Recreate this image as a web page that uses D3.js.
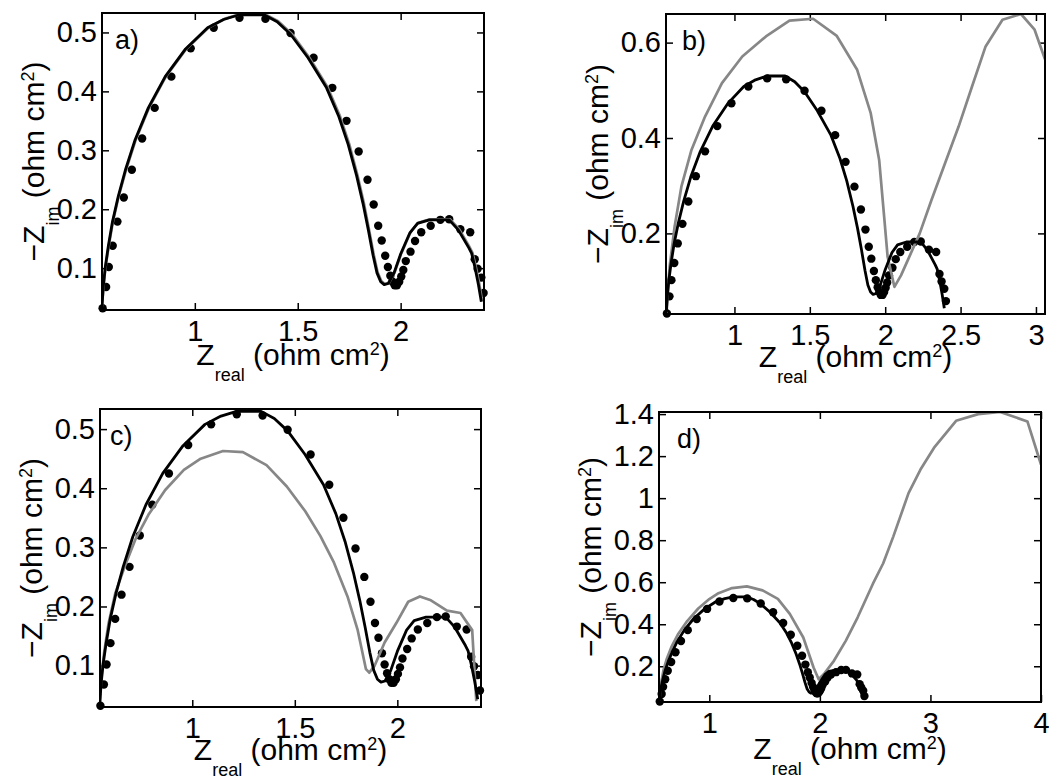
<!DOCTYPE html>
<html>
<head>
<meta charset="utf-8">
<script src="https://cdn.jsdelivr.net/npm/d3@7"></script>
<style>
  html, body { margin: 0; padding: 0; background: #fff; }
  svg text { font-family: "Liberation Sans", Arial, sans-serif; white-space: pre; }
</style>
</head>
<body>
<svg id="chart" width="1049" height="781"></svg>
<script>
// measured impedance (black dots), same in all four panels: [Zreal, -Zim]
const measured = [
  [0.552,0.032],[0.569,0.068],[0.582,0.102],[0.601,0.138],[0.624,0.179],[0.655,0.220],
  [0.694,0.267],[0.744,0.320],[0.805,0.372],[0.886,0.425],[0.980,0.473],[1.092,0.508],
  [1.217,0.525],[1.343,0.523],[1.465,0.499],[1.577,0.457],[1.668,0.406],[1.737,0.350],
  [1.796,0.298],[1.839,0.250],[1.869,0.208],[1.891,0.172],[1.908,0.147],[1.925,0.121],
  [1.938,0.102],[1.950,0.087],[1.961,0.077],[1.971,0.071],[1.982,0.071],[1.993,0.077],
  [2.003,0.086],[2.013,0.097],[2.025,0.112],[2.048,0.128],[2.070,0.146],[2.100,0.161],
  [2.146,0.172],[2.193,0.182],[2.236,0.183],[2.290,0.166],[2.338,0.161],[2.360,0.115],
  [2.374,0.099],[2.392,0.084],[2.403,0.058]
];

// fitted curve (black line), same in all panels
const fitLine = [
  [0.549,0.035],[0.555,0.068],[0.565,0.102],[0.580,0.138],[0.600,0.179],[0.628,0.222],
  [0.663,0.267],[0.710,0.318],[0.774,0.372],[0.856,0.425],[0.955,0.472],[1.062,0.508],
  [1.140,0.522],[1.216,0.530],[1.336,0.530],[1.400,0.518],[1.465,0.497],[1.550,0.457],
  [1.640,0.406],[1.700,0.357],[1.745,0.310],[1.786,0.257],[1.817,0.210],[1.843,0.165],
  [1.866,0.122],[1.885,0.092],[1.903,0.077],[1.920,0.072],[1.940,0.074],[1.968,0.092],
  [2.000,0.124],[2.045,0.160],[2.082,0.176],[2.140,0.182],[2.236,0.182],[2.280,0.165],
  [2.332,0.134],[2.345,0.125],[2.362,0.100],[2.378,0.072],[2.392,0.043]
];

// grey model curves, one per panel
const modelA = [
  [0.549,0.035],[0.556,0.068],[0.566,0.102],[0.582,0.138],[0.602,0.179],[0.630,0.222],
  [0.666,0.267],[0.713,0.318],[0.777,0.372],[0.859,0.425],[0.958,0.472],[1.066,0.508],
  [1.144,0.523],[1.220,0.531],[1.340,0.531],[1.405,0.519],[1.470,0.498],[1.555,0.458],
  [1.645,0.407],[1.705,0.358],[1.750,0.311],[1.790,0.258],[1.821,0.211],[1.846,0.166],
  [1.869,0.123],[1.888,0.093],[1.906,0.078],[1.923,0.073],[1.943,0.075],[1.971,0.093],
  [2.003,0.125],[2.048,0.161],[2.085,0.177],[2.143,0.183],[2.239,0.183],[2.284,0.166],
  [2.336,0.135],[2.349,0.126],[2.366,0.101],[2.382,0.073],[2.396,0.044]
];
const modelB = [
  [0.547,0.032],[0.570,0.130],[0.603,0.214],[0.648,0.298],[0.715,0.375],[0.805,0.445],
  [0.917,0.515],[1.052,0.571],[1.209,0.613],[1.365,0.646],[1.522,0.650],[1.679,0.614],
  [1.814,0.543],[1.904,0.452],[1.960,0.354],[1.993,0.235],[2.016,0.151],[2.061,0.088],
  [2.105,0.112],[2.150,0.144],[2.229,0.200],[2.307,0.270],[2.397,0.347],[2.487,0.424],
  [2.576,0.508],[2.666,0.592],[2.778,0.648],[2.901,0.660],[2.991,0.627],[3.060,0.565]
];
const modelC = [
  [0.548,0.035],[0.556,0.077],[0.570,0.122],[0.592,0.172],[0.625,0.223],[0.671,0.268],
  [0.722,0.313],[0.786,0.355],[0.868,0.397],[0.959,0.431],[1.041,0.450],[1.150,0.463],
  [1.247,0.461],[1.362,0.439],[1.461,0.403],[1.551,0.361],[1.625,0.319],[1.691,0.274],
  [1.757,0.217],[1.806,0.161],[1.847,0.094],[1.863,0.088],[1.888,0.099],[1.938,0.139],
  [1.995,0.172],[2.053,0.208],[2.110,0.217],[2.160,0.211],[2.242,0.193],[2.308,0.189],
  [2.365,0.160],[2.385,0.040]
];
const modelD = [
  [0.548,0.034],[0.556,0.080],[0.566,0.125],[0.585,0.180],[0.615,0.235],[0.660,0.295],
  [0.720,0.355],[0.800,0.415],[0.900,0.475],[1.000,0.520],[1.083,0.548],[1.206,0.572],
  [1.340,0.580],[1.482,0.561],[1.620,0.521],[1.728,0.449],[1.850,0.337],[1.943,0.194],
  [1.989,0.138],[2.035,0.162],[2.127,0.226],[2.234,0.321],[2.342,0.433],[2.480,0.593],
  [2.572,0.689],[2.664,0.817],[2.802,1.024],[2.910,1.136],[3.033,1.240],[3.232,1.368],
  [3.432,1.400],[3.631,1.410],[3.877,1.365],[4.000,1.160]
];

const panelNames = ["a)", "b)", "c)", "d)"];
const models = [modelA, modelB, modelC, modelD];
const xDomains = [[0.549, 2.405], [0.546, 3.06], [0.55, 2.408], [0.545, 4.0]];
const yDomains = [[0.029, 0.533], [0.031, 0.66], [0.03, 0.534], [0.03, 1.41]];
const xTickVals = [[1, 1.5, 2], [1, 1.5, 2, 2.5, 3], [1, 1.5, 2], [1, 2, 3, 4]];
const yTickVals = [
  [0.1, 0.2, 0.3, 0.4, 0.5],
  [0.2, 0.4, 0.6],
  [0.1, 0.2, 0.3, 0.4, 0.5],
  [0.2, 0.4, 0.6, 0.8, 1, 1.2, 1.4]
];

// axes boxes in page pixels
const boxes = [
  { l: 102, r: 484, t: 13, b: 310, lx: 13, xl: 55 },
  { l: 666, r: 1045, t: 14, b: 314, lx: 16, xl: 53 },
  { l: 100, r: 481, t: 409, b: 707, lx: 10, xl: 53 },
  { l: 659, r: 1041, t: 412, b: 702, lx: 18, xl: 57 }
];

const FONT = 29, LABEL_FONT = 30, SUB_FONT = 18;
const GREY = "#878787";
const svg = d3.select("#chart");

function xLabel(g, cx, y) {
  const t = g.append("text").attr("x", cx).attr("y", y)
    .attr("text-anchor", "middle").attr("font-size", LABEL_FONT);
  t.append("tspan").text("Z");
  t.append("tspan").attr("font-size", SUB_FONT).attr("dy", 16).text("real");
  t.append("tspan").attr("dy", -16).text(" (ohm cm");
  t.append("tspan").attr("font-size", SUB_FONT).attr("dy", -10).text("2");
  t.append("tspan").attr("dy", 10).text(")");
}

function yLabel(g, x, cy) {
  const t = g.append("text").attr("transform", `translate(${x},${cy}) rotate(-90)`)
    .attr("text-anchor", "middle").attr("font-size", LABEL_FONT);
  t.append("tspan").text("\u2212Z");
  t.append("tspan").attr("font-size", SUB_FONT).attr("dy", 15).text("im");
  t.append("tspan").attr("dy", -15).text(" (ohm cm");
  t.append("tspan").attr("font-size", SUB_FONT).attr("dy", -10).text("2");
  t.append("tspan").attr("dy", 10).text(")");
}

boxes.forEach((bx, i) => {
  const x = d3.scaleLinear().domain(xDomains[i]).range([bx.l, bx.r]);
  const y = d3.scaleLinear().domain(yDomains[i]).range([bx.b, bx.t]);
  const g = svg.append("g");

  const clipId = "clip" + i;
  svg.append("clipPath").attr("id", clipId)
    .append("rect").attr("x", bx.l).attr("y", bx.t)
    .attr("width", bx.r - bx.l).attr("height", bx.b - bx.t);

  const fmt = d => String(d);
  const styleAxis = sel => {
    sel.select(".domain").remove();
    sel.selectAll("line").attr("stroke", "#000").attr("stroke-width", 1.5);
    sel.selectAll("text").attr("font-size", FONT)
      .attr("font-family", "'Liberation Sans', Arial, sans-serif").attr("fill", "#000");
  };

  g.append("g").attr("transform", `translate(0,${bx.b})`)
    .call(d3.axisBottom(x).tickValues(xTickVals[i]).tickFormat(fmt).tickSize(-7).tickPadding(10))
    .call(styleAxis);
  g.append("g").attr("transform", `translate(0,${bx.t})`)
    .call(d3.axisTop(x).tickValues(xTickVals[i]).tickFormat("").tickSize(-7))
    .call(styleAxis);
  g.append("g").attr("transform", `translate(${bx.l},0)`)
    .call(d3.axisLeft(y).tickValues(yTickVals[i]).tickFormat(fmt).tickSize(-7).tickPadding(5))
    .call(styleAxis);
  g.append("g").attr("transform", `translate(${bx.r},0)`)
    .call(d3.axisRight(y).tickValues(yTickVals[i]).tickFormat("").tickSize(-7))
    .call(styleAxis);

  const line = d3.line().x(d => x(d[0])).y(d => y(d[1]));

  // data dots
  g.append("g").selectAll("circle").data(measured).enter().append("circle")
    .attr("cx", d => x(d[0])).attr("cy", d => y(d[1])).attr("r", 4.2).attr("fill", "#000");

  // grey model and black fit
  g.append("path").datum(models[i]).attr("d", line)
    .attr("fill", "none").attr("stroke", GREY).attr("stroke-width", 2.7)
    .attr("stroke-linejoin", "round").attr("clip-path", `url(#${clipId})`);
  g.append("path").datum(fitLine).attr("d", line)
    .attr("fill", "none").attr("stroke", "#000").attr("stroke-width", 2.8)
    .attr("stroke-linejoin", "round").attr("clip-path", `url(#${clipId})`);

  // axes box
  g.append("rect").attr("x", bx.l).attr("y", bx.t)
    .attr("width", bx.r - bx.l).attr("height", bx.b - bx.t)
    .attr("fill", "none").attr("stroke", "#000").attr("stroke-width", 2);

  // panel letter
  g.append("text").attr("x", bx.l + bx.lx).attr("y", bx.t + 36)
    .attr("font-size", 27).text(panelNames[i]);

  xLabel(g, (bx.l + bx.r) / 2, bx.b + bx.xl);
  yLabel(g, bx.l - 58, (bx.t + bx.b) / 2);
});
</script>
</body>
</html>
